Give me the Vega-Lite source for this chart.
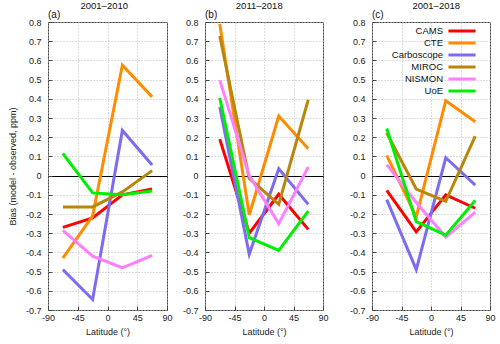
{
  "$schema": "https://vega.github.io/schema/vega-lite/v6.json",
  "padding": {"left": 7, "top": 0, "right": 2, "bottom": 2},
  "datasets": {
    "bias": [
      {"panel": "a", "model": "CAMS", "lat": -67.5, "bias": -0.27},
      {"panel": "a", "model": "CAMS", "lat": -22.5, "bias": -0.22},
      {"panel": "a", "model": "CAMS", "lat": 22.5, "bias": -0.10},
      {"panel": "a", "model": "CAMS", "lat": 67.5, "bias": -0.07},
      {"panel": "a", "model": "CTE", "lat": -67.5, "bias": -0.43},
      {"panel": "a", "model": "CTE", "lat": -22.5, "bias": -0.21},
      {"panel": "a", "model": "CTE", "lat": 22.5, "bias": 0.575},
      {"panel": "a", "model": "CTE", "lat": 67.5, "bias": 0.41},
      {"panel": "a", "model": "Carboscope", "lat": -67.5, "bias": -0.49},
      {"panel": "a", "model": "Carboscope", "lat": -22.5, "bias": -0.645},
      {"panel": "a", "model": "Carboscope", "lat": 22.5, "bias": 0.235},
      {"panel": "a", "model": "Carboscope", "lat": 67.5, "bias": 0.055},
      {"panel": "a", "model": "MIROC", "lat": -67.5, "bias": -0.163},
      {"panel": "a", "model": "MIROC", "lat": -22.5, "bias": -0.163},
      {"panel": "a", "model": "MIROC", "lat": 22.5, "bias": -0.085},
      {"panel": "a", "model": "MIROC", "lat": 67.5, "bias": 0.026},
      {"panel": "a", "model": "NISMON", "lat": -67.5, "bias": -0.285},
      {"panel": "a", "model": "NISMON", "lat": -22.5, "bias": -0.42},
      {"panel": "a", "model": "NISMON", "lat": 22.5, "bias": -0.48},
      {"panel": "a", "model": "NISMON", "lat": 67.5, "bias": -0.415},
      {"panel": "a", "model": "UoE", "lat": -67.5, "bias": 0.115},
      {"panel": "a", "model": "UoE", "lat": -22.5, "bias": -0.09},
      {"panel": "a", "model": "UoE", "lat": 22.5, "bias": -0.10},
      {"panel": "a", "model": "UoE", "lat": 67.5, "bias": -0.08},

      {"panel": "b", "model": "CAMS", "lat": -67.5, "bias": 0.19},
      {"panel": "b", "model": "CAMS", "lat": -22.5, "bias": -0.30},
      {"panel": "b", "model": "CAMS", "lat": 22.5, "bias": -0.097},
      {"panel": "b", "model": "CAMS", "lat": 67.5, "bias": -0.28},
      {"panel": "b", "model": "CTE", "lat": -67.5, "bias": 0.79},
      {"panel": "b", "model": "CTE", "lat": -22.5, "bias": -0.205},
      {"panel": "b", "model": "CTE", "lat": 22.5, "bias": 0.31},
      {"panel": "b", "model": "CTE", "lat": 67.5, "bias": 0.14},
      {"panel": "b", "model": "Carboscope", "lat": -67.5, "bias": 0.357},
      {"panel": "b", "model": "Carboscope", "lat": -22.5, "bias": -0.41},
      {"panel": "b", "model": "Carboscope", "lat": 22.5, "bias": 0.035},
      {"panel": "b", "model": "Carboscope", "lat": 67.5, "bias": -0.15},
      {"panel": "b", "model": "MIROC", "lat": -67.5, "bias": 0.727},
      {"panel": "b", "model": "MIROC", "lat": -22.5, "bias": -0.015},
      {"panel": "b", "model": "MIROC", "lat": 22.5, "bias": -0.15},
      {"panel": "b", "model": "MIROC", "lat": 67.5, "bias": 0.395},
      {"panel": "b", "model": "NISMON", "lat": -67.5, "bias": 0.497},
      {"panel": "b", "model": "NISMON", "lat": -22.5, "bias": 0.0},
      {"panel": "b", "model": "NISMON", "lat": 22.5, "bias": -0.25},
      {"panel": "b", "model": "NISMON", "lat": 67.5, "bias": 0.045},
      {"panel": "b", "model": "UoE", "lat": -67.5, "bias": 0.405},
      {"panel": "b", "model": "UoE", "lat": -22.5, "bias": -0.323},
      {"panel": "b", "model": "UoE", "lat": 22.5, "bias": -0.39},
      {"panel": "b", "model": "UoE", "lat": 67.5, "bias": -0.185},

      {"panel": "c", "model": "CAMS", "lat": -67.5, "bias": -0.077},
      {"panel": "c", "model": "CAMS", "lat": -22.5, "bias": -0.293},
      {"panel": "c", "model": "CAMS", "lat": 22.5, "bias": -0.10},
      {"panel": "c", "model": "CAMS", "lat": 67.5, "bias": -0.17},
      {"panel": "c", "model": "CTE", "lat": -67.5, "bias": 0.105},
      {"panel": "c", "model": "CTE", "lat": -22.5, "bias": -0.215},
      {"panel": "c", "model": "CTE", "lat": 22.5, "bias": 0.39},
      {"panel": "c", "model": "CTE", "lat": 67.5, "bias": 0.28},
      {"panel": "c", "model": "Carboscope", "lat": -67.5, "bias": -0.125},
      {"panel": "c", "model": "Carboscope", "lat": -22.5, "bias": -0.49},
      {"panel": "c", "model": "Carboscope", "lat": 22.5, "bias": 0.093},
      {"panel": "c", "model": "Carboscope", "lat": 67.5, "bias": -0.05},
      {"panel": "c", "model": "MIROC", "lat": -67.5, "bias": 0.222},
      {"panel": "c", "model": "MIROC", "lat": -22.5, "bias": -0.07},
      {"panel": "c", "model": "MIROC", "lat": 22.5, "bias": -0.134},
      {"panel": "c", "model": "MIROC", "lat": 67.5, "bias": 0.205},
      {"panel": "c", "model": "NISMON", "lat": -67.5, "bias": 0.057},
      {"panel": "c", "model": "NISMON", "lat": -22.5, "bias": -0.14},
      {"panel": "c", "model": "NISMON", "lat": 22.5, "bias": -0.32},
      {"panel": "c", "model": "NISMON", "lat": 67.5, "bias": -0.19},
      {"panel": "c", "model": "UoE", "lat": -67.5, "bias": 0.245},
      {"panel": "c", "model": "UoE", "lat": -22.5, "bias": -0.24},
      {"panel": "c", "model": "UoE", "lat": 22.5, "bias": -0.31},
      {"panel": "c", "model": "UoE", "lat": 67.5, "bias": -0.13}
    ]
  },
  "hconcat": [
    {
      "hconcat": [
        {
          "title": {"text": "2001–2010", "dx": 14, "offset": -1},
          "vconcat": [
            {
              "width": 119, "height": 288,
              "title": {"text": "(a)", "anchor": "start", "frame": "group", "fontSize": 10, "offset": -2},
              "data": {"name": "bias"},
              "transform": [{"filter": "datum.panel === 'a'"}],
              "mark": {"type": "line", "strokeWidth": 3},
              "encoding": {
                "x": {"field": "lat", "type": "quantitative", "scale": {"domain": [-90, 90], "nice": false}, "axis": {"title": "Latitude (°)", "labelOverlap": false, "labelFlush": false, "values": [-90, -45, 0, 45, 90], "labelExpr": "(datum.value < 0 ? '-' : '') + format(abs(datum.value), 'd')"}},
                "y": {"field": "bias", "type": "quantitative", "scale": {"domain": [-0.7, 0.8], "nice": false, "zero": false}, "axis": {"title": "Bias (model - observed, ppm)", "labelOverlap": false, "labelFlush": false, "values": [-0.7, -0.6, -0.5, -0.4, -0.3, -0.2, -0.1, 0, 0.1, 0.2, 0.3, 0.4, 0.5, 0.6, 0.7, 0.8], "labelExpr": "(datum.value < 0 ? '-' : '') + format(abs(datum.value), '.1~f')"}},
                "color": {"field": "model", "type": "nominal", "scale": {"domain": ["CAMS", "CTE", "Carboscope", "MIROC", "NISMON", "UoE"], "range": ["#ff0000", "#ff8c00", "#7b6cf2", "#b8860b", "#ff80ff", "#00ee00"]}, "legend": null}
              }
            }
          ],
          "resolve": {"scale": {"color": "independent"}, "legend": {"color": "independent"}}
        },
        {
          "title": {"text": "2011–2018", "dx": 4, "offset": -1},
          "vconcat": [
            {
              "width": 118, "height": 288,
              "title": {"text": "(b)", "anchor": "start", "frame": "group", "fontSize": 10, "offset": -2},
              "data": {"name": "bias"},
              "transform": [{"filter": "datum.panel === 'b'"}],
              "mark": {"type": "line", "strokeWidth": 3},
              "encoding": {
                "x": {"field": "lat", "type": "quantitative", "scale": {"domain": [-90, 90], "nice": false}, "axis": {"title": "Latitude (°)", "labelOverlap": false, "labelFlush": false, "values": [-90, -45, 0, 45, 90], "labelExpr": "(datum.value < 0 ? '-' : '') + format(abs(datum.value), 'd')"}},
                "y": {"field": "bias", "type": "quantitative", "scale": {"domain": [-0.7, 0.8], "nice": false, "zero": false}, "axis": {"title": null, "labelOverlap": false, "labelFlush": false, "values": [-0.7, -0.6, -0.5, -0.4, -0.3, -0.2, -0.1, 0, 0.1, 0.2, 0.3, 0.4, 0.5, 0.6, 0.7, 0.8], "labelExpr": "(datum.value < 0 ? '-' : '') + format(abs(datum.value), '.1~f')"}},
                "color": {"field": "model", "type": "nominal", "scale": {"domain": ["CAMS", "CTE", "Carboscope", "MIROC", "NISMON", "UoE"], "range": ["#ff0000", "#ff8c00", "#7b6cf2", "#b8860b", "#ff80ff", "#00ee00"]}, "legend": null}
              }
            }
          ],
          "resolve": {"scale": {"color": "independent"}, "legend": {"color": "independent"}}
        }
      ],
      "spacing": 8,
      "resolve": {"scale": {"color": "independent"}, "legend": {"color": "independent"}}
    },
    {
      "title": {"text": "2001–2018", "dx": 14, "offset": -1},
      "vconcat": [
        {
          "width": 118, "height": 288,
          "title": {"text": "(c)", "anchor": "start", "frame": "group", "fontSize": 10, "offset": -2},
          "data": {"name": "bias"},
          "transform": [{"filter": "datum.panel === 'c'"}],
          "mark": {"type": "line", "strokeWidth": 3},
          "encoding": {
            "x": {"field": "lat", "type": "quantitative", "scale": {"domain": [-90, 90], "nice": false}, "axis": {"title": "Latitude (°)", "labelOverlap": false, "labelFlush": false, "values": [-90, -45, 0, 45, 90], "labelExpr": "(datum.value < 0 ? '-' : '') + format(abs(datum.value), 'd')"}},
            "y": {"field": "bias", "type": "quantitative", "scale": {"domain": [-0.7, 0.8], "nice": false, "zero": false}, "axis": {"title": null, "labelOverlap": false, "labelFlush": false, "values": [-0.7, -0.6, -0.5, -0.4, -0.3, -0.2, -0.1, 0, 0.1, 0.2, 0.3, 0.4, 0.5, 0.6, 0.7, 0.8], "labelExpr": "(datum.value < 0 ? '-' : '') + format(abs(datum.value), '.1~f')"}},
            "color": {"field": "model", "type": "nominal", "scale": {"domain": ["CAMS", "CTE", "Carboscope", "MIROC", "NISMON", "UoE"], "range": ["#ff0000", "#ff8c00", "#7b6cf2", "#b8860b", "#ff80ff", "#00ee00"]},
              "legend": {"orient": "none", "legendX": 85, "legendY": 4, "title": null, "symbolType": "M-4,0H4", "symbolStrokeWidth": 3, "symbolSize": 46, "symbolFillColor": "transparent", "labelFontSize": 9.5, "labelColor": "#111", "labelAlign": "right", "labelOffset": -24, "rowPadding": 0, "padding": 0, "labelLimit": 120}}
          }
        }
      ],
      "resolve": {"scale": {"color": "independent"}, "legend": {"color": "independent"}}
    }
  ],
  "spacing": 19,
  "resolve": {"scale": {"color": "independent"}, "legend": {"color": "independent"}},
  "config": {
    "font": "Liberation Sans",
    "view": {"stroke": "#444", "strokeWidth": 1},
    "title": {"fontSize": 9.5, "fontWeight": "normal", "color": "#111", "anchor": "middle"},
    "axis": {
      "domain": false,
      "labelFontSize": 9,
      "labelColor": "#222",
      "titleFontSize": 9,
      "titleFontWeight": "normal",
      "titleColor": "#222",
      "tickSize": -4,
      "tickColor": "#444",
      "labelPadding": 11,
      "grid": true,
      "gridColor": "#bbbbbb",
      "gridDash": [1, 2],
      "gridWidth": 1
    },
    "axisX": {"labelPadding": 7, "titlePadding": 5},
    "axisY": {
      "titlePadding": 8,
      "gridColor": {"condition": {"test": "datum.value === 0", "value": "#000000"}, "value": "#bbbbbb"},
      "gridDash": {"condition": {"test": "datum.value === 0", "value": []}, "value": [1, 2]}
    },
    "legend": {"labelFont": "Liberation Sans"}
  }
}
